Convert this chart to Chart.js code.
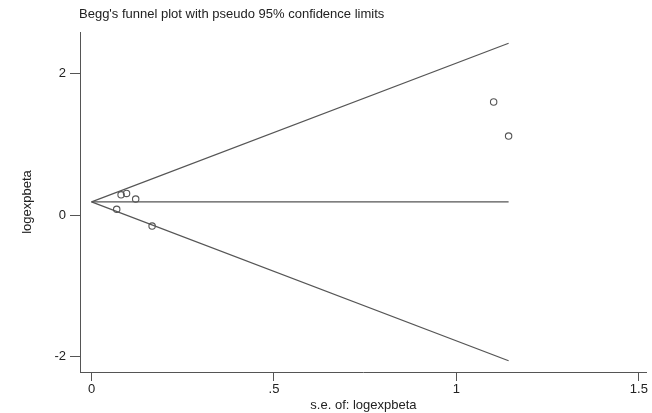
<!DOCTYPE html>
<html>
<head>
<meta charset="utf-8">
<script src="https://cdn.jsdelivr.net/npm/chart.js@4/dist/chart.umd.min.js"></script>
<style>
html,body{margin:0;padding:0;background:#fff;}
#wrap{width:652px;height:413px;position:relative;}
</style>
</head>
<body>
<div id="wrap"><canvas id="c" width="652" height="413"></canvas></div>
<script>
// Study points: standard error (x) and log effect (y)
const studySE   = [0.069, 0.081, 0.096, 0.121, 0.166, 1.102, 1.143];
const studyLogB = [0.081, 0.287, 0.307, 0.226, -0.155, 1.60, 1.117];
// Funnel (pseudo 95% limits) endpoints
const funnelSE    = [0, 1.143];
const upperLimit  = [0.186, 2.43];
const lowerLimit  = [0.186, -2.06];
const pooledLine  = [0.186, 0.186];
// Tick values
const xTicks = [0, 0.5, 1, 1.5];
const yTicks = [-2, 0, 2];

const FONT = "'Liberation Sans', Arial, sans-serif";
const lineCol = '#555';
const toPts = (xs, ys) => xs.map((x, i) => ({x: x, y: ys[i]}));

const titlePlugin = {
  id: 'topTitle',
  afterDraw(chart) {
    const ctx = chart.ctx;
    ctx.save();
    ctx.font = "13px " + FONT;
    ctx.fillStyle = '#222';
    ctx.textBaseline = 'alphabetic';
    ctx.textAlign = 'left';
    ctx.fillText("Begg's funnel plot with pseudo 95% confidence limits", 79, 18);
    ctx.restore();
  }
};

const lineDs = (ys) => ({
  type: 'line', data: toPts(funnelSE, ys), borderColor: lineCol, borderWidth: 1.2,
  pointRadius: 0, fill: false, tension: 0
});

new Chart(document.getElementById('c'), {
  type: 'scatter',
  data: {
    datasets: [
      lineDs(upperLimit),
      lineDs(lowerLimit),
      lineDs(pooledLine),
      {
        type: 'scatter', data: toPts(studySE, studyLogB),
        pointRadius: 3.2, pointStyle: 'circle', backgroundColor: 'rgba(0,0,0,0)',
        borderColor: '#555', borderWidth: 1.1
      }
    ]
  },
  options: {
    responsive: false, animation: false, devicePixelRatio: 1,
    layout: {padding: {top: 32, right: 0, left: 0, bottom: 0}},
    plugins: {legend: {display: false}, tooltip: {enabled: false}, title: {display: false}},
    scales: {
      x: {
        type: 'linear', min: -0.0316, max: 1.522,
        afterBuildTicks: s => { s.ticks = xTicks.map(v => ({value: v})); },
        afterFit: s => { s.height = 41; },
        grid: {drawOnChartArea: false, drawTicks: true, tickLength: 9, color: '#555', lineWidth: 1},
        border: {display: true, color: '#555', width: 1},
        ticks: {
          autoSkip: false, maxRotation: 0, padding: 1, color: '#222',
          font: {family: FONT, size: 13},
          callback: v => v === 0 ? '0' : String(v).replace(/^0\./, '.')
        },
        title: {display: true, text: 's.e. of: logexpbeta', color: '#222',
                font: {family: FONT, size: 13}, padding: {top: 0, bottom: 0}}
      },
      y: {
        type: 'linear', min: -2.22, max: 2.59,
        afterBuildTicks: s => { s.ticks = yTicks.map(v => ({value: v})); },
        afterFit: s => { s.width = 80; },
        grid: {drawOnChartArea: false, drawTicks: true, tickLength: 10, color: '#555', lineWidth: 1},
        border: {display: true, color: '#555', width: 1},
        ticks: {
          autoSkip: false, padding: 4, color: '#222',
          font: {family: FONT, size: 13},
          callback: v => String(v)
        },
        title: {display: true, text: 'logexpbeta', color: '#222',
                font: {family: FONT, size: 13}, padding: {top: 20, bottom: 0}}
      }
    }
  },
  plugins: [titlePlugin]
});
</script>
</body>
</html>
